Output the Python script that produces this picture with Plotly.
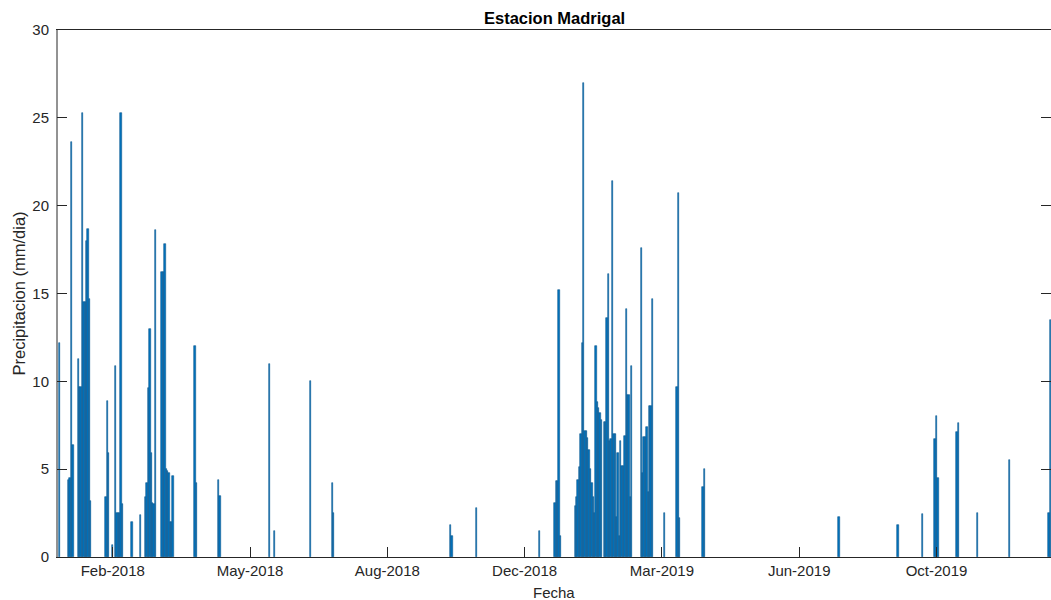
import pandas as pd
import plotly.graph_objects as go

# ---- data ----
start_date = "2018-01-01"
# day number of the record (days since start_date) for each rainy day
rain_day = [0, 7, 8, 9, 10, 14, 15, 16, 17, 18, 19, 20, 21, 22, 23, 34, 35, 36, 39,
            41, 42, 43, 44, 45, 46, 53, 59, 63, 64, 65, 66, 67, 68, 69, 70, 75, 76,
            77, 78, 79, 80, 81, 82, 83, 99, 100, 116, 117, 153, 157, 183, 199, 200,
            285, 286, 304, 350, 361, 362, 363, 364, 365, 376, 377, 378, 379, 380,
            381, 382, 383, 384, 385, 386, 387, 388, 389, 390, 391, 392, 393, 394,
            395, 397, 398, 399, 400, 401, 402, 403, 404, 405, 406, 407, 408, 409,
            410, 411, 412, 413, 414, 415, 416, 417, 424, 425, 426, 427, 428, 429,
            430, 431, 432, 441, 450, 451, 452, 469, 470, 568, 611, 629, 638, 639,
            640, 654, 655, 669, 692, 721, 722]
rain_mm = [12.2, 4.4, 4.5, 23.6, 6.4, 11.3, 9.7, 9.7, 25.3, 14.5, 14.5, 18.0, 18.7, 14.7, 3.2, 3.4, 8.9, 5.9, 0.7,
           10.9, 2.5, 2.5, 2.5, 25.3, 3.0, 2.0, 2.4, 3.4, 4.2, 9.6, 13.0, 5.9, 3.1, 3.0, 18.6, 16.2, 16.2,
           17.8, 5.0, 4.9, 4.8, 2.0, 2.0, 4.6, 12.0, 4.2, 4.4, 3.5, 11.0, 1.5, 10.0, 4.2, 2.5,
           1.8, 1.2, 2.8, 1.5, 3.1, 4.3, 4.3, 15.2, 1.2, 2.9, 3.4, 4.4, 5.1, 7.0,
           12.2, 27.0, 7.2, 7.2, 6.8, 6.1, 5.0, 4.2, 3.4, 2.5, 12.0, 8.8, 8.5, 8.2,
           7.8, 7.7, 7.7, 13.6, 16.1, 6.6, 6.7, 21.4, 7.0, 7.0, 2.3, 5.9, 1.2, 6.6,
           5.2, 5.2, 6.9, 14.1, 9.2, 9.2, 3.4, 10.9, 17.6, 4.8, 6.85, 6.85, 7.4, 3.7,
           8.6, 8.6, 14.7, 2.5, 9.7, 20.7, 2.2, 4.0, 5.0, 2.3, 1.85, 2.45, 6.7, 8.0,
           4.5, 7.1, 7.6, 2.5, 5.5, 2.5, 13.5]
tick_dates = ["2018-02-09", "2018-05-20", "2018-08-28", "2018-12-06",
              "2019-03-16", "2019-06-24", "2019-10-02"]
tick_labels = ["Feb-2018", "May-2018", "Aug-2018", "Dec-2018",
               "Mar-2019", "Jun-2019", "Oct-2019"]
title_text = "Estacion Madrigal"
x_title = "Fecha"
y_title = "Precipitacion (mm/dia)"

# ---- build ----
t0 = pd.Timestamp(start_date)
dates = [t0 + pd.Timedelta(days=d) for d in rain_day]
x_start = t0 - pd.Timedelta(days=1.6)
x_end = t0 + pd.Timedelta(days=722.4)

ink = "#262626"
font_family = "Liberation Sans, Arial, Helvetica, sans-serif"

fig = go.Figure()
fig.add_trace(go.Bar(
    x=dates, y=rain_mm,
    width=86400000 * 1.0,
    marker=dict(color="#0072BD", line=dict(color="#0f5b8e", width=0.6)),
    hoverinfo="x+y",
))

fig.update_layout(
    width=1051, height=600,
    margin=dict(l=57, r=0, t=30, b=43, autoexpand=False),
    paper_bgcolor="white", plot_bgcolor="white",
    showlegend=False,
    bargap=0,
    font=dict(family=font_family, color=ink, size=15),
    xaxis=dict(
        type="date",
        range=[x_start, x_end],
        tickvals=tick_dates, ticktext=tick_labels,
        ticks="inside", ticklen=10, tickcolor=ink, tickwidth=1,
        showline=True, linecolor=ink, linewidth=1, mirror=True,
        showgrid=False, zeroline=False,
        tickfont=dict(size=15, color=ink),
        automargin=False,
    ),
    yaxis=dict(
        range=[0, 30], tickvals=[0, 5, 10, 15, 20, 25, 30],
        ticks="inside", ticklen=10, tickcolor=ink, tickwidth=1,
        showline=True, linecolor="rgba(0,0,0,0)", mirror="ticks",
        showgrid=False, zeroline=False,
        tickfont=dict(size=15, color=ink),
        ticklabelstandoff=4,
        automargin=False,
    ),
    shapes=[dict(type="line", xref="paper", yref="paper", x0=0, x1=0, y0=0, y1=1,
                 line=dict(color=ink, width=1))],
    annotations=[
        dict(text="<b>" + title_text + "</b>", xref="paper", yref="paper",
             x=0.5, y=1.0228, xanchor="center", yanchor="middle", showarrow=False,
             font=dict(size=16.5, color="black", family=font_family)),
        dict(text=x_title, xref="paper", yref="paper",
             x=0.4995, y=-0.067, xanchor="center", yanchor="middle", showarrow=False,
             font=dict(size=15, color=ink, family=font_family)),
        dict(text=y_title, xref="paper", yref="paper", textangle=-90,
             x=-0.0392, y=0.5, xanchor="center", yanchor="middle", showarrow=False,
             font=dict(size=16.5, color=ink, family=font_family)),
    ],
)

fig.write_html("out.html")
